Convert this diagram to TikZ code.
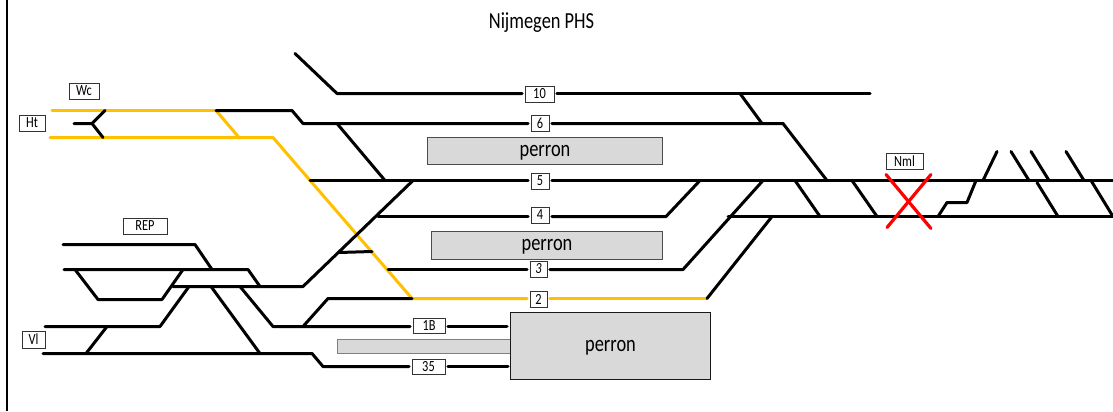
\documentclass[tikz,border=0pt]{standalone}
\usepackage{fontspec}
\setmainfont[FakeStretch=0.8,ItalicFont={Carlito Italic}]{Carlito}
\definecolor{railyellow}{HTML}{FFC000}
\definecolor{platgrey}{HTML}{D9D9D9}
\newcommand{\perrontext}[1]{\raisebox{#1}[\height][\depth]{perron}}
\begin{document}
\begin{tikzpicture}[x=0.75pt,y=-0.75pt,
  track/.style={line width=2.25pt,line cap=round,line join=round,black},
  ytrack/.style={line width=2.25pt,line cap=round,line join=round,railyellow},
  cross/.style={line width=2.4pt,line cap=round,red},
  tag/.style={draw=black!80,line width=0.7pt,fill=white,inner sep=0pt,outer sep=2.2pt,font=\fontsize{11.6pt}{13pt}\selectfont},
  platform/.style={draw=black!70,line width=0.75pt,fill=platgrey,inner sep=0pt,font=\fontsize{17.25pt}{19pt}\selectfont},
  title/.style={inner sep=0pt,font=\fontsize{17.25pt}{19pt}\selectfont}]
\useasboundingbox (0,0) rectangle (1113,411);
\fill[white] (0,0) rectangle (1113,411);
\draw[line width=1.6pt] (7,0) -- (7,411);
\node[title] (ttl) at (541.5,23) {Nijmegen PHS};

% platforms
\node[platform,minimum width=129.75pt,minimum height=10.5pt,draw=black!50] (pthin) at (424,346) {};
\node[platform,minimum width=176.25pt,minimum height=20.25pt] (p1) at (545,150.5) {\perrontext{-1.5pt}};
\node[platform,minimum width=173.25pt,minimum height=21pt] (p2) at (547,245) {\perrontext{-1.5pt}};
\node[platform,minimum width=150pt,minimum height=50.25pt,draw=black!90] (p3) at (610.5,345.5) {\perrontext{-2pt}};

% labels
\node[tag,minimum width=21.75pt,minimum height=12pt] (l10) at (539.5,94) {10};
\node[tag,minimum width=13.5pt,minimum height=12pt] (l6) at (540,123) {6};
\node[tag,minimum width=13.5pt,minimum height=12pt] (l5) at (540,181) {5};
\node[tag,minimum width=13.5pt,minimum height=12pt] (l4) at (540,215) {4};
\node[tag,minimum width=12.75pt,minimum height=12pt] (l3) at (538.5,269) {\textit{3}};
\node[tag,minimum width=12.75pt,minimum height=12pt] (l2) at (538.5,299) {2};
\node[tag,minimum width=24pt,minimum height=11.25pt] (l1b) at (429,325.5) {1B};
\node[tag,minimum width=24.75pt,minimum height=11.25pt] (l35) at (428.5,366.5) {35};
\node[tag,minimum width=22.5pt,minimum height=12pt] (wc) at (84,91) {Wc};
\node[tag,minimum width=19.5pt,minimum height=12pt] (ht) at (32,123) {Ht};
\node[tag,minimum width=33pt,minimum height=12pt] (rep) at (145,226) {REP};
\node[tag,minimum width=17.25pt,minimum height=12.75pt] (vl) at (33.5,339.5) {Vl};
\node[tag,minimum width=27.75pt,minimum height=12pt] (nml) at (904.5,161) {Nml};

% tracks sit half a pixel down, on pixel rows
\begin{scope}[yshift=-0.375pt]
% track heights beside the labels
\coordinate (y10) at (0,93);
\coordinate (y6) at (0,123);
\coordinate (y5) at (0,180);
\coordinate (y4) at (0,216);
\coordinate (y3) at (0,269);
\coordinate (y2) at (0,298);
\coordinate (y1) at (0,326);
\coordinate (y35) at (0,366);

% yellow tracks
\draw[ytrack] (52,110) -- (216,110);
\draw[ytrack] (216,110) -- (239,137);
\draw[ytrack] (50,137) -- (273,137) -- (412,298) -- (l2.west |- y2);
\draw[ytrack] (707,298) -- (l2.east |- y2);

% black tracks, left
\draw[track] (74,123) -- (92,123) -- (105,110);
\draw[track] (92,123) -- (103,137);
\draw[track] (216,110) -- (292,110) -- (303,123) -- (l6.west |- y6);
\draw[track] (l6.east |- y6) -- (783,123) -- (827,180);
\draw[track] (295,53) -- (337,93) -- (l10.west |- y10);
\draw[track] (870,93) -- (l10.east |- y10);
\draw[track] (740,93) -- (762,123);
\draw[track] (337,123) -- (385,180);
\draw[track] (310,180) -- (l5.west |- y5);
\draw[track] (1113,180) -- (l5.east |- y5);
\draw[track] (173,286) -- (303,286) -- (413,180);
\draw[track] (339,252) -- (372,251);
\draw[track] (378,216) -- (l4.west |- y4);
\draw[track] (700,180) -- (666,216) -- (l4.east |- y4);
\draw[track] (388,269) -- (l3.west |- y3);
\draw[track] (l3.east |- y3) -- (683,269) -- (763,180);
\draw[track] (707,298) -- (772,216);
\draw[track] (303,326) -- (328,298) -- (412,298);
\draw[track] (240,286) -- (273,326) -- (l1b.west |- y1);
\draw[track] (507,326) -- (l1b.east |- y1);
\draw[track] (43,353) -- (312,353) -- (323,366) -- (l35.west |- y35);
\draw[track] (508,366) -- (l35.east |- y35);
\draw[track] (63,244) -- (195,244) -- (212,269);
\draw[track] (64,269) -- (248,269) -- (260,286);
\draw[track] (75,269) -- (98,299) -- (162,299) -- (183,269);
\draw[track] (45,326) -- (160,326) -- (189,286);
\draw[track] (86,353) -- (107,326);
\draw[track] (211,286) -- (260,353);

% black tracks, right
\draw[track] (728,216) -- (1113,216);
\draw[track] (795,180) -- (820,216);
\draw[track] (852,180) -- (877,216);
\draw[track] (938,216) -- (947,202) -- (967,202) -- (976,180);
\draw[track] (983,180) -- (997,151);
\draw[track] (1011,151) -- (1029,180);
\draw[track] (1031,151) -- (1049,180);
\draw[track] (1066,151) -- (1084,180);
\draw[track] (1037,182) -- (1058,216);
\draw[track] (1091,180) -- (1113,216);

% red cross
\draw[cross] (886,174) -- (931,228);
\draw[cross] (931,174) -- (887,227);
\end{scope}
\end{tikzpicture}
\end{document}
